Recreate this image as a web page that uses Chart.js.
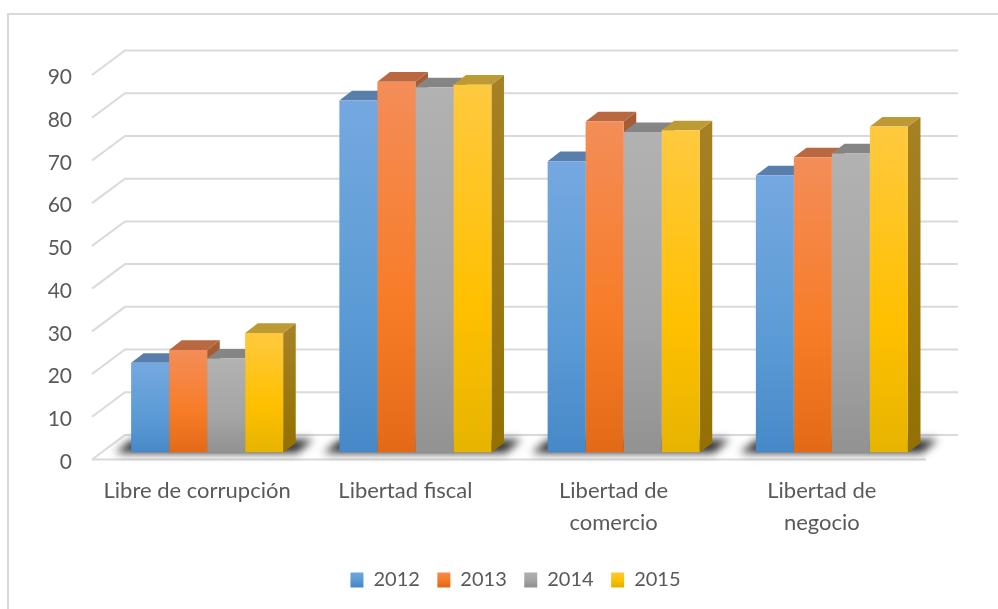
<!DOCTYPE html>
<html><head><meta charset="utf-8">
<style>html,body{margin:0;padding:0;background:#fff}#w{position:relative;width:998px;height:609px}</style>
<script src="https://cdn.jsdelivr.net/npm/chart.js@4"></script></head>
<body><div id="w"><canvas id="c" width="998" height="609"></canvas></div>
<script>
const categories = [['Libre de corrupción'], ['Libertad fiscal'], ['Libertad de','comercio'], ['Libertad de','negocio']];
const seriesNames = ['2012','2013','2014','2015'];
const values2012 = [21, 82.4, 68.2, 64.9];
const values2013 = [24, 86.8, 77.5, 69.1];
const values2014 = [22, 85.5, 75, 70];
const values2015 = [28, 86.1, 75.4, 76.3];
const tickValues = [0,10,20,30,40,50,60,70,80,90];
const seriesValues = [values2012, values2013, values2014, values2015];

const frontStops = [
  ['#75A8E0','#5B9BD5','#4788C8'],
  ['#F48D58','#F77C27','#E26A17'],
  ['#B2B2B2','#A5A5A5','#929292'],
  ['#FFC93F','#FFC000','#E6B400']];
const topColors = ['#587FAB','#B9683F','#858585','#BE9A35'];
const sideTop = ['#4F7299','#A55D38','#777777','#A68124'];
const sideBottom = ['#3C6590','#8F4E1E','#666666','#937000'];

const depthX = 12.6, depthY = 9.6;      // bar depth
const wallX = 33, wallY = 24.5;         // floor depth
const frontX = 11, frontY = 7;          // gap floor front edge -> bar front

function grad(c, y0, y1, stops){
  const g = c.createLinearGradient(0,y0,0,y1);
  g.addColorStop(0,stops[0]); g.addColorStop(0.6,stops[1]); g.addColorStop(1,stops[2]);
  return g;
}
function poly(c, pts, fill){
  c.beginPath(); pts.forEach((p,i)=> i?c.lineTo(p[0],p[1]):c.moveTo(p[0],p[1]));
  c.closePath(); c.fillStyle=fill; c.fill();
}
const scene = {
  id:'scene',
  afterLayout(ch){
    ch.legend.left += 47.5; ch.legend.right += 47.5;
  },
  beforeDraw(ch){
    const c = ch.ctx, y = ch.scales.y, a = ch.chartArea;
    c.save();
    c.fillStyle='#fff'; c.fillRect(0,0,ch.width,ch.height);
    c.strokeStyle='#D9D9D9'; c.lineWidth=2;
    c.beginPath(); c.moveTo(8,ch.height); c.lineTo(8,14); c.lineTo(ch.width,14); c.stroke();
    // walls
    c.lineWidth=2; c.strokeStyle='#DADADA';
    const fl = a.left-frontX, fr = a.right-frontX+1;
    tickValues.forEach(v=>{
      const py = y.getPixelForValue(v)+frontY;
      c.beginPath();
      c.moveTo(fl,py); c.lineTo(fl+wallX,py-wallY); c.lineTo(fr+wallX-1,py-wallY);
      if(v===0){ c.moveTo(fl,py); c.lineTo(fr,py); }
      c.stroke();
    });
    c.restore();
  },
  beforeDatasetsDraw(ch){
    const c = ch.ctx, y = ch.scales.y;
    const metas = seriesNames.map((_,i)=>ch.getDatasetMeta(i));
    const base = y.getPixelForValue(0);
    c.save();
    // floor shadows
    categories.forEach((_,k)=>{
      const l = metas[0].data[k], r = metas[3].data[k];
      const x0 = l.x-l.width/2, x1 = r.x+r.width/2;
      c.filter='blur(4px)';
      poly(c,[[x0-16,base+0.5],[x1+14,base+0.5],[x1+30,base-13],[x0+1,base-13]],'rgba(35,35,35,0.95)');
      c.filter='none';
    });
    // top and side faces
    categories.forEach((_,k)=>{
      metas.forEach((m,s)=>{
        const b = m.data[k], x0=b.x-b.width/2, x1=b.x+b.width/2, t=b.y;
        const g = c.createLinearGradient(0,t,0,base);
        g.addColorStop(0,sideTop[s]); g.addColorStop(1,sideBottom[s]);
        poly(c,[[x1,t],[x1+depthX,t-depthY],[x1+depthX,base-depthY],[x1,base]],g);
        poly(c,[[x0,t],[x0+depthX,t-depthY],[x1+depthX,t-depthY],[x1,t]],topColors[s]);
      });
    });
    c.restore();
  }
};
const legendBoxGrad = s => grad(document.getElementById('c').getContext('2d'),571,585.7,frontStops[s]);

new Chart(document.getElementById('c'),{
  type:'bar',
  data:{labels:categories,datasets:seriesNames.map((n,s)=>({
    label:n,data:seriesValues[s],
    backgroundColor(ctx){
      const ch=ctx.chart;
      if(!ch.chartArea||ctx.parsed===undefined) return frontStops[s][1];
      return grad(ch.ctx,ch.scales.y.getPixelForValue(ctx.parsed.y),ch.scales.y.getPixelForValue(0),frontStops[s]);
    },
    borderWidth:0,barPercentage:1,categoryPercentage:0.73
  }))},
  options:{
    responsive:false,animation:false,
    layout:{padding:{left:0,right:62,top:68,bottom:9}},
    plugins:{
      tooltip:{enabled:false},
      legend:{position:'bottom',
        labels:{color:'#595959',font:{family:'Lato',size:20},boxWidth:13,boxHeight:15,padding:17.5,
          generateLabels:()=>seriesNames.map((n,s)=>({text:n,fillStyle:legendBoxGrad(s),strokeStyle:'transparent',lineWidth:0,fontColor:'#595959',datasetIndex:s}))}}
    },
    scales:{
      x:{grid:{display:false},border:{display:false},
        ticks:{color:'#595959',font:{family:'Lato',size:22,lineHeight:1.43},labelOffset:-10,padding:15,maxRotation:0,autoSkip:false},
        afterFit:s=>{s.height=100;}},
      y:{min:0,max:90,grid:{display:false},border:{display:false},
        afterBuildTicks:s=>{s.ticks=tickValues.map(v=>({value:v}));},
        ticks:{color:'#595959',font:{family:'Lato',size:21},labelOffset:9.5,padding:23},
        afterFit:s=>{s.width=103;}}
    }
  },
  plugins:[scene]
});
</script></body></html>
